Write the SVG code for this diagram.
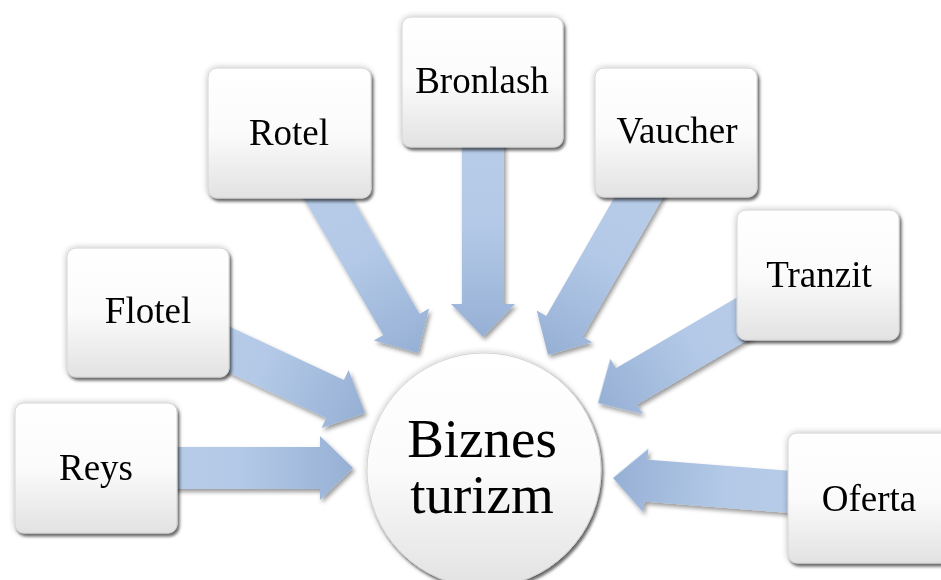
<svg xmlns="http://www.w3.org/2000/svg" xmlns:xlink="http://www.w3.org/1999/xlink" width="941" height="580" viewBox="0 0 941 580">
<defs>
<linearGradient id="boxg" x1="0" y1="0" x2="0" y2="1">
<stop offset="0" stop-color="#ffffff"/>
<stop offset="0.5" stop-color="#fbfbfb"/>
<stop offset="1" stop-color="#e2e2e2"/>
</linearGradient>
<linearGradient id="arrg" x1="0" y1="0" x2="1" y2="0">
<stop offset="0" stop-color="#b9cee9"/>
<stop offset="0.55" stop-color="#b3c9e7"/>
<stop offset="1" stop-color="#96b0d5"/>
</linearGradient>
<filter id="sh" x="-20%" y="-20%" width="140%" height="140%">
<feGaussianBlur in="SourceAlpha" stdDeviation="3" result="glow"/>
<feComponentTransfer in="glow" result="glow2"><feFuncA type="linear" slope="0.25"/></feComponentTransfer>
<feDropShadow in="SourceGraphic" dx="2" dy="3" stdDeviation="1.5" flood-color="#000" flood-opacity="0.55" result="ds"/>
<feMerge><feMergeNode in="glow2"/><feMergeNode in="ds"/></feMerge>
</filter>
<filter id="ash" x="-10%" y="-10%" width="120%" height="120%">
<feDropShadow dx="2" dy="3" stdDeviation="2" flood-color="#000" flood-opacity="0.4"/>
</filter>
<path id="arr" d="M-250,-21 L-33,-21 L-33,-32 L0,0 L-33,32 L-33,21 L-250,21 Z" fill="url(#arrg)"/>
</defs>
<style>
.box{fill:url(#boxg);stroke:#d4d4d4;stroke-width:1;filter:url(#sh)}
.lbl{font-family:"Liberation Serif","Times New Roman",serif;font-size:37px;fill:#000;text-anchor:middle}
.big{font-family:"Liberation Serif","Times New Roman",serif;font-size:55px;fill:#000;text-anchor:middle}
</style>
<rect width="941" height="580" fill="#fff"/>
<g id="connectors" filter="url(#ash)">
<use xlink:href="#arr" transform="translate(353,468) rotate(0)"/>
<use xlink:href="#arr" transform="translate(365,413) rotate(25)"/>
<use xlink:href="#arr" transform="translate(418,353) rotate(59.8)"/>
<use xlink:href="#arr" transform="translate(483,337) rotate(90)"/>
<use xlink:href="#arr" transform="translate(548,355) rotate(119.9)"/>
<use xlink:href="#arr" transform="translate(598,403) rotate(149.7)"/>
<use xlink:href="#arr" transform="translate(613,478) rotate(184.5)"/>
</g>
<g id="center">
<circle cx="484" cy="470" r="117" class="box"/>
<text x="482" y="457" class="big">Biznes</text>
<text x="482" y="513" class="big">turizm</text>
</g>
<g id="reys">
<rect x="15" y="403" width="162" height="130" rx="9" class="box"/>
<text x="96" y="480" class="lbl">Reys</text>
</g>
<g id="flotel">
<rect x="67" y="248" width="162" height="129" rx="9" class="box"/>
<text x="148" y="323" class="lbl">Flotel</text>
</g>
<g id="rotel">
<rect x="208" y="68" width="163" height="130" rx="9" class="box"/>
<text x="289" y="145" class="lbl">Rotel</text>
</g>
<g id="bronlash">
<rect x="402" y="17" width="161" height="130" rx="9" class="box"/>
<text x="482" y="93" class="lbl">Bronlash</text>
</g>
<g id="vaucher">
<rect x="595" y="68" width="162" height="129" rx="9" class="box"/>
<text x="677" y="143" class="lbl">Vaucher</text>
</g>
<g id="tranzit">
<rect x="737" y="210" width="162" height="130" rx="9" class="box"/>
<text x="819" y="287" class="lbl">Tranzit</text>
</g>
<g id="oferta">
<rect x="788" y="433" width="165" height="130" rx="9" class="box"/>
<text x="869" y="511" class="lbl">Oferta</text>
</g>
</svg>
